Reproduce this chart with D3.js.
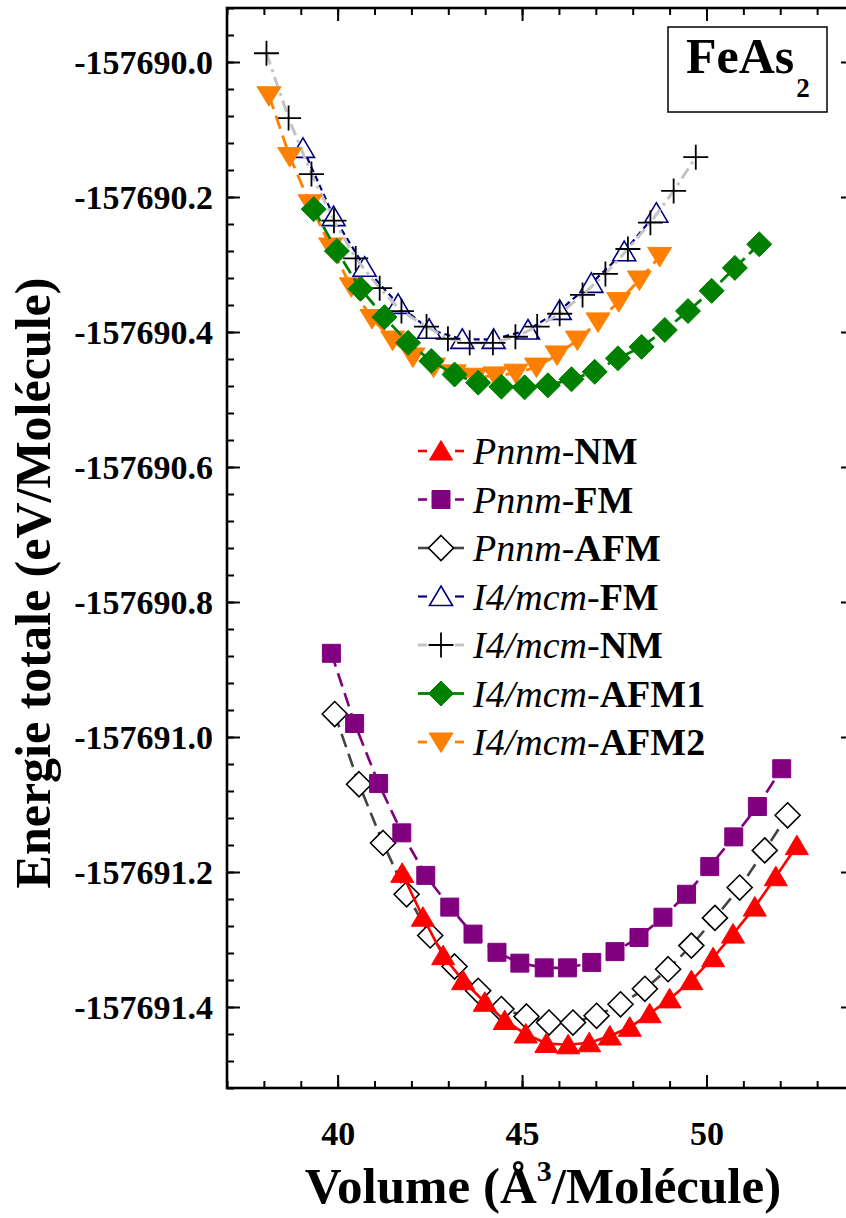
<!DOCTYPE html>
<html>
<head>
<meta charset="utf-8">
<script src="https://cdn.jsdelivr.net/npm/d3@7"></script>
<style>
  html, body { margin: 0; padding: 0; background: #fff; }
  svg { display: block; }
  text { font-family: "Liberation Serif", "Times New Roman", serif; }
</style>
</head>
<body>
<svg id="chart" width="846" height="1218"></svg>
<script>
// ---------------- data ----------------
const pnnmNM_V = [41.75,42.31,42.86,43.40,43.99,44.53,45.10,45.66,46.25,46.82,47.38,47.92,48.46,49.00,49.59,50.18,50.72,51.31,51.88,52.45];
const pnnmNM_E = [-157691.202,-157691.267,-157691.324,-157691.361,-157691.393,-157691.420,-157691.440,-157691.454,-157691.456,-157691.453,-157691.443,-157691.430,-157691.410,-157691.388,-157691.361,-157691.327,-157691.292,-157691.252,-157691.207,-157691.161];

const pnnmFM_V = [39.83,40.46,41.11,41.74,42.39,43.04,43.67,44.32,44.94,45.60,46.23,46.89,47.52,48.17,48.82,49.46,50.09,50.74,51.38,52.04];
const pnnmFM_E = [-157690.876,-157690.980,-157691.069,-157691.142,-157691.205,-157691.252,-157691.292,-157691.319,-157691.335,-157691.342,-157691.342,-157691.334,-157691.318,-157691.297,-157691.267,-157691.233,-157691.192,-157691.148,-157691.103,-157691.047];

const pnnmAFM_V = [39.92,40.58,41.23,41.87,42.51,43.17,43.81,44.44,45.12,45.73,46.38,47.02,47.67,48.33,48.96,49.59,50.23,50.90,51.58,52.20];
const pnnmAFM_E = [-157690.966,-157691.070,-157691.157,-157691.233,-157691.294,-157691.340,-157691.376,-157691.403,-157691.414,-157691.423,-157691.423,-157691.413,-157691.396,-157691.373,-157691.344,-157691.309,-157691.268,-157691.223,-157691.168,-157691.116];

const i4FM_V = [39.06,39.89,40.73,41.64,42.48,43.38,44.23,45.16,46.02,46.88,47.77,48.64];
const i4FM_E = [-157690.128,-157690.229,-157690.304,-157690.359,-157690.396,-157690.411,-157690.411,-157690.397,-157690.368,-157690.328,-157690.281,-157690.224];

const i4NM_V = [38.07,38.67,39.29,39.90,40.49,41.14,41.73,42.41,42.99,43.58,44.21,44.82,45.41,46.02,46.64,47.26,47.87,48.48,49.11,49.71];
const i4NM_E = [-157689.987,-157690.083,-157690.166,-157690.235,-157690.291,-157690.335,-157690.369,-157690.392,-157690.410,-157690.416,-157690.416,-157690.407,-157690.392,-157690.373,-157690.345,-157690.314,-157690.277,-157690.238,-157690.191,-157690.141];

const i4AFM1_V = [39.35,39.98,40.62,41.27,41.91,42.54,43.17,43.81,44.44,45.07,45.70,46.34,46.97,47.60,48.24,48.87,49.50,50.14,50.77,51.43];
const i4AFM1_E = [-157690.218,-157690.280,-157690.336,-157690.378,-157690.416,-157690.443,-157690.463,-157690.475,-157690.481,-157690.482,-157690.479,-157690.470,-157690.459,-157690.439,-157690.422,-157690.397,-157690.369,-157690.339,-157690.305,-157690.270];

const i4AFM2_V = [38.14,38.70,39.25,39.81,40.37,40.93,41.49,42.04,42.60,43.16,43.72,44.27,44.83,45.39,45.95,46.50,47.06,47.62,48.18,48.73];
const i4AFM2_E = [-157690.050,-157690.140,-157690.210,-157690.274,-157690.333,-157690.380,-157690.412,-157690.437,-157690.452,-157690.462,-157690.467,-157690.465,-157690.461,-157690.452,-157690.434,-157690.412,-157690.385,-157690.355,-157690.323,-157690.288];

const seriesGroups = ["Pnnm","Pnnm","Pnnm","I4/mcm","I4/mcm","I4/mcm","I4/mcm"];
const seriesStates = ["NM","FM","AFM","FM","NM","AFM1","AFM2"];

const xTickValues = [40, 45, 50];
const xTickLabels = ["40", "45", "50"];
const yTickValues = [-157691.4,-157691.2,-157691.0,-157690.8,-157690.6,-157690.4,-157690.2,-157690.0];
const yTickLabels = ["-157691.4","-157691.2","-157691.0","-157690.8","-157690.6","-157690.4","-157690.2","-157690.0"];

const xTitle = ["Volume (Å", "3", "/Molécule)"];
const yTitle = "Energie totale (eV/Molécule)";
const compound = ["FeAs", "2"];

// ---------------- styles ----------------
const shapes = {
  triUp:   "M0,-10.5 L11.5,9 L-11.5,9 Z",
  triDown: "M0,10.5 L-12,-9 L12,-9 Z",
  square:  "M-9,-9 H9 V9 H-9 Z",
  diamond: "M0,-12.5 L12.5,0 L0,12.5 L-12.5,0 Z",
  plus:    "M-12.5,0 H12.5 M0,-12.5 V12.5"
};
const styles = [
  {shape:"triUp",   fill:"#ff0000", stroke:"#ff0000", sw:1,   line:"#ff0000", lw:2.6, dash:null},
  {shape:"square",  fill:"#800080", stroke:"#800080", sw:1,   line:"#800080", lw:2.6, dash:"14,7"},
  {shape:"diamond", fill:"#ffffff", stroke:"#000000", sw:1.6, line:"#444444", lw:2.6, dash:"14,7"},
  {shape:"triUp",   fill:"#ffffff", stroke:"#000080", sw:1.6, line:"#000080", lw:2.2, dash:"6,4"},
  {shape:"plus",    fill:"none",    stroke:"#000000", sw:1.8, line:"#c4c4c4", lw:3,   dash:"12,5,3,5"},
  {shape:"diamond", fill:"#008000", stroke:"#008000", sw:1,   line:"#008000", lw:2.8, dash:"14,6"},
  {shape:"triDown", fill:"#ff8000", stroke:"#ff8000", sw:1,   line:"#ff8000", lw:2.8, dash:"14,7"}
];
const seriesV = [pnnmNM_V, pnnmFM_V, pnnmAFM_V, i4FM_V, i4NM_V, i4AFM1_V, i4AFM2_V];
const seriesE = [pnnmNM_E, pnnmFM_E, pnnmAFM_E, i4FM_E, i4NM_E, i4AFM1_E, i4AFM2_E];
const drawOrder = [2, 1, 0, 3, 4, 6, 5];

// ---------------- chart ----------------
const svg = d3.select("#chart");
svg.append("rect").attr("width", 846).attr("height", 1218).attr("fill", "#fff");

const L = 227, R = 854, T = 8, B = 1088;
const x = d3.scaleLinear().domain([37, 54]).range([L, R]);
const y = d3.scaleLinear().domain([-157691.52, -157689.92]).range([B, T]);

const FONT = '"Liberation Serif", "Times New Roman", serif';

// series
const line = d3.line().x(d => x(d[0])).y(d => y(d[1]));
drawOrder.forEach(i => {
  const st = styles[i];
  const pts = seriesV[i].map((v, k) => [v, seriesE[i][k]]);
  const g = svg.append("g");
  g.append("path").datum(pts)
    .attr("d", line)
    .attr("fill", "none")
    .attr("stroke", st.line)
    .attr("stroke-width", st.lw)
    .attr("stroke-dasharray", st.dash);
  g.selectAll("path.m").data(pts).join("path")
    .attr("class", "m")
    .attr("d", shapes[st.shape])
    .attr("transform", d => `translate(${x(d[0])},${y(d[1])})`)
    .attr("fill", st.fill)
    .attr("stroke", st.stroke)
    .attr("stroke-width", st.sw);
});

// axes (inward ticks on all four sides)
const axisG = svg.append("g");
function styleAxis(g) {
  g.select(".domain").remove();
  g.selectAll(".tick line").attr("stroke", "#000").attr("stroke-width", 2);
}
const xMinor = d3.range(37, 55, 1);
const yMinor = d3.range(-157691.52, -157689.919, 0.04);

axisG.append("g").attr("transform", `translate(0,${B})`)
  .call(d3.axisBottom(x).tickValues(xMinor).tickSize(-7).tickFormat("")).call(styleAxis);
axisG.append("g").attr("transform", `translate(0,${B})`)
  .call(d3.axisBottom(x).tickValues(xTickValues).tickSize(-13).tickPadding(0)
    .tickFormat((d, i) => xTickLabels[i])).call(styleAxis)
  .selectAll("text").attr("font-family", FONT).attr("font-weight", "bold")
  .attr("font-size", 34).attr("fill", "#000").attr("y", 57).attr("dy", 0);

axisG.append("g").attr("transform", `translate(0,${T})`)
  .call(d3.axisTop(x).tickValues(xMinor).tickSize(-7).tickFormat("")).call(styleAxis);
axisG.append("g").attr("transform", `translate(0,${T})`)
  .call(d3.axisTop(x).tickValues(xTickValues).tickSize(-13).tickFormat("")).call(styleAxis);

axisG.append("g").attr("transform", `translate(${L},0)`)
  .call(d3.axisLeft(y).tickValues(yMinor).tickSize(-7).tickFormat("")).call(styleAxis);
axisG.append("g").attr("transform", `translate(${L},0)`)
  .call(d3.axisLeft(y).tickValues(yTickValues).tickSize(-13)
    .tickFormat((d, i) => yTickLabels[i])).call(styleAxis)
  .selectAll("text").attr("font-family", FONT).attr("font-weight", "bold")
  .attr("font-size", 34).attr("fill", "#000").attr("x", -14).attr("dy", "0.35em");

axisG.append("g").attr("transform", `translate(${R},0)`)
  .call(d3.axisRight(y).tickValues(yMinor).tickSize(-7).tickFormat("")).call(styleAxis);
axisG.append("g").attr("transform", `translate(${R},0)`)
  .call(d3.axisRight(y).tickValues(yTickValues).tickSize(-13).tickFormat("")).call(styleAxis);

// frame
svg.append("rect").attr("x", L).attr("y", T).attr("width", R - L).attr("height", B - T)
  .attr("fill", "none").attr("stroke", "#000").attr("stroke-width", 2.6);

// axis titles
const xt = svg.append("text").attr("x", 543).attr("y", 1203)
  .attr("text-anchor", "middle").attr("font-family", FONT).attr("font-weight", "bold")
  .attr("font-size", 51).attr("fill", "#000");
xt.append("tspan").text(xTitle[0]);
xt.append("tspan").attr("dy", -22).attr("font-size", 30).text(xTitle[1]);
xt.append("tspan").attr("dy", 22).text(xTitle[2]);

svg.append("text").attr("transform", "translate(50,583) rotate(-90)")
  .attr("text-anchor", "middle").attr("font-family", FONT).attr("font-weight", "bold")
  .attr("font-size", 50).attr("fill", "#000").text(yTitle);

// compound label box
svg.append("rect").attr("x", 668).attr("y", 27).attr("width", 159).attr("height", 85)
  .attr("fill", "#fff").attr("stroke", "#000").attr("stroke-width", 1.5);
const ct = svg.append("text").attr("x", 686).attr("y", 73)
  .attr("font-family", FONT).attr("font-weight", "bold").attr("font-size", 50).attr("fill", "#000");
ct.append("tspan").text(compound[0]);
ct.append("tspan").attr("dx", 2).attr("dy", 24).attr("font-size", 27).text(compound[1]);

// legend
const legX = 441, legY0 = 451, legStep = 48.5;
styles.forEach((st, i) => {
  const cy = legY0 + i * legStep;
  const g = svg.append("g");
  const solidLike = (i === 2 || i === 5);
  const segs = solidLike ? [[418, 434], [448, 464]] : [[418, 427], [455, 464]];
  segs.forEach(s => g.append("line").attr("x1", s[0]).attr("x2", s[1]).attr("y1", cy).attr("y2", cy)
    .attr("stroke", st.line).attr("stroke-width", st.lw));
  g.append("path").attr("d", shapes[st.shape]).attr("transform", `translate(${legX},${cy})`)
    .attr("fill", st.fill).attr("stroke", st.stroke).attr("stroke-width", st.sw);
  const t = g.append("text").attr("x", 473).attr("y", cy + 13)
    .attr("font-family", FONT).attr("font-size", 38).attr("fill", "#000");
  t.append("tspan").attr("font-style", "italic").text(seriesGroups[i]);
  t.append("tspan").text("-");
  t.append("tspan").attr("font-weight", "bold").text(seriesStates[i]);
});
</script>
</body>
</html>
